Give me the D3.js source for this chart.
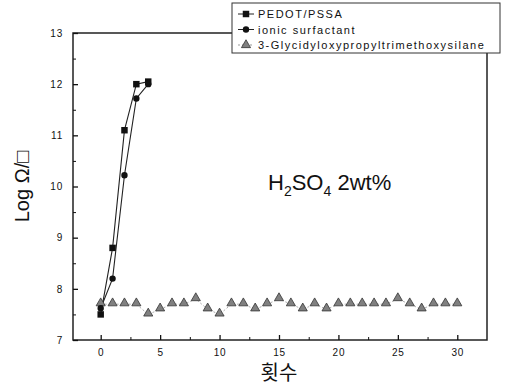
<!DOCTYPE html>
<html>
<head>
<meta charset="utf-8">
<script src="https://cdn.jsdelivr.net/npm/d3@7"></script>
<style>
  html, body { margin: 0; padding: 0; background: #fff; }
  svg { display: block; }
  text { font-family: "Liberation Sans", Arial, sans-serif; fill: #111; }
</style>
</head>
<body>
<svg id="chart" width="509" height="389"></svg>
<script>
// Sheet resistance (log scale) vs. number of treatments
const cycles = d3.range(0, 31);
const pedotX = [0, 1, 2, 3, 4];
const pedotY = [7.5, 8.8, 11.1, 12.0, 12.05];
const ionicX = [0, 1, 2, 3, 4];
const ionicY = [7.62, 8.2, 10.22, 11.72, 12.0];
const silaneY = [7.7, 7.7, 7.7, 7.7, 7.5, 7.6, 7.7, 7.7, 7.8, 7.6,
                 7.5, 7.7, 7.7, 7.6, 7.7, 7.8, 7.7, 7.6, 7.7, 7.6,
                 7.7, 7.7, 7.7, 7.7, 7.7, 7.8, 7.7, 7.6, 7.7, 7.7, 7.7];
const xTicks = [0, 5, 10, 15, 20, 25, 30];
const yTicks = [7, 8, 9, 10, 11, 12, 13];
const seriesNames = ["PEDOT/PSSA", "ionic surfactant", "3-Glycidyloxypropyltrimethoxysilane"];

const svg = d3.select("#chart");
const L = 73, R = 487, T = 33, B = 340;

const x = d3.scaleLinear().domain([-2.33, 32.5]).range([L, R]);
const y = d3.scaleLinear().domain([7, 13]).range([B, T]);

// frame
svg.append("rect").attr("x", L).attr("y", T).attr("width", R - L).attr("height", B - T)
  .attr("fill", "none").attr("stroke", "#222").attr("stroke-width", 1.5);

// bottom axis, ticks pointing inward
const xAxis = d3.axisBottom(x).tickValues(xTicks).tickSize(-5).tickPadding(9).tickFormat(d3.format("d"));
const gx = svg.append("g").attr("transform", `translate(0,${B})`).call(xAxis);
gx.select(".domain").remove();
gx.selectAll("line").attr("stroke", "#111").attr("stroke-width", 1.3);
gx.selectAll("text").attr("font-size", 10).attr("letter-spacing", 0.8).attr("fill", "#222");
const xMinor = d3.axisBottom(x).tickValues(d3.range(2.5, 31, 5)).tickSize(-3).tickFormat("");
const gxm = svg.append("g").attr("transform", `translate(0,${B})`).call(xMinor);
gxm.select(".domain").remove();
gxm.selectAll("line").attr("stroke", "#111");

// left axis, ticks pointing inward
const yAxis = d3.axisLeft(y).tickValues(yTicks).tickSize(-5).tickPadding(10).tickFormat(d3.format("d"));
const gy = svg.append("g").attr("transform", `translate(${L},0)`).call(yAxis);
gy.select(".domain").remove();
gy.selectAll("line").attr("stroke", "#111").attr("stroke-width", 1.3);
gy.selectAll("text").attr("font-size", 10).attr("letter-spacing", 0.8).attr("fill", "#222");
const yMinor = d3.axisLeft(y).tickValues(d3.range(7.5, 13, 1)).tickSize(-3).tickFormat("");
const gym = svg.append("g").attr("transform", `translate(${L},0)`).call(yMinor);
gym.select(".domain").remove();
gym.selectAll("line").attr("stroke", "#111");

// series
const line = d3.line().x(d => x(d[0])).y(d => y(d[1]));
const pedot = pedotX.map((v, i) => [v, pedotY[i]]);
const ionic = ionicX.map((v, i) => [v, ionicY[i]]);
const silane = cycles.map((v, i) => [v, silaneY[i]]);

svg.append("path").datum(silane).attr("d", line).attr("fill", "none")
  .attr("stroke", "#999").attr("stroke-width", 0.8).attr("stroke-dasharray", "2,2");
svg.append("path").datum(ionic).attr("d", line).attr("fill", "none")
  .attr("stroke", "#222").attr("stroke-width", 1.1);
svg.append("path").datum(pedot).attr("d", line).attr("fill", "none")
  .attr("stroke", "#222").attr("stroke-width", 1.1);

const tri = d3.symbol().type(d3.symbolTriangle).size(36);
const sq = d3.symbol().type(d3.symbolSquare).size(42);
const circ = d3.symbol().type(d3.symbolCircle).size(32);

svg.append("g").selectAll("path").data(silane).join("path")
  .attr("transform", d => `translate(${x(d[0])},${y(d[1]) - 1})`)
  .attr("d", tri).attr("fill", "#808080").attr("stroke", "#333").attr("stroke-width", 0.8);
svg.append("g").selectAll("path").data(ionic).join("path")
  .attr("transform", d => `translate(${x(d[0])},${y(d[1])})`)
  .attr("d", circ).attr("fill", "#111");
svg.append("g").selectAll("path").data(pedot).join("path")
  .attr("transform", d => `translate(${x(d[0])},${y(d[1])})`)
  .attr("d", sq).attr("fill", "#111");

// legend
const lg = svg.append("g");
lg.append("rect").attr("x", 232).attr("y", 3).attr("width", 268).attr("height", 50)
  .attr("fill", "#fff").attr("stroke", "#333").attr("stroke-width", 1);
const markers = [sq, circ, tri];
const fills = ["#111", "#111", "#808080"];
const strokes = ["#222", "#222", "#999"];
seriesNames.forEach((name, i) => {
  const cy = 14 + i * 15.5;
  lg.append("line").attr("x1", 238).attr("x2", 254).attr("y1", cy).attr("y2", cy)
    .attr("stroke", strokes[i]).attr("stroke-width", 1)
    .attr("stroke-dasharray", i === 2 ? "2,2" : null);
  lg.append("path").attr("transform", `translate(246,${cy})`).attr("d", markers[i])
    .attr("fill", fills[i]).attr("stroke", i === 2 ? "#333" : "none").attr("stroke-width", 0.8);
  lg.append("text").attr("x", 258).attr("y", cy + 4).attr("font-size", 11)
    .attr("letter-spacing", 1.5).text(name);
});

// annotation
const ann = svg.append("text").attr("x", 268).attr("y", 190).attr("font-size", 22);
ann.append("tspan").text("H");
ann.append("tspan").attr("font-size", 14).attr("dy", 6).text("2");
ann.append("tspan").attr("dy", -6).text("SO");
ann.append("tspan").attr("font-size", 14).attr("dy", 6).text("4");
ann.append("tspan").attr("dy", -6).text(" 2wt%");

// axis titles
svg.append("text").attr("transform", `translate(29,${(T + B) / 2}) rotate(-90)`)
  .attr("text-anchor", "middle").attr("font-size", 20).text("Log Ω/□");
svg.append("text").attr("x", x(15)).attr("y", 380).attr("text-anchor", "middle")
  .attr("font-size", 20).style("font-family", "'Noto Sans CJK KR', sans-serif").text("횟수");
</script>
</body>
</html>
